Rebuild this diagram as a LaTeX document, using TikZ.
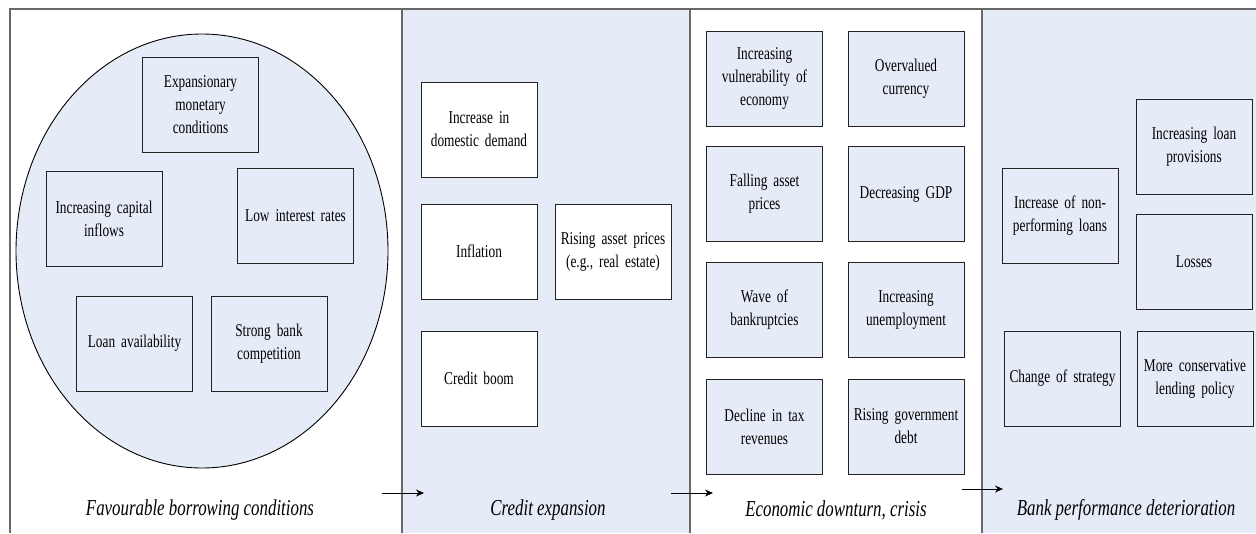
\documentclass[tikz,border=0pt]{standalone}
\usepackage{fontspec}
\setmainfont{Liberation Serif}[FakeStretch=0.74]
\usetikzlibrary{arrows.meta}
\definecolor{panelblue}{RGB}{230,236,247}
\definecolor{framegray}{RGB}{105,105,105}
\definecolor{boxline}{RGB}{35,35,35}
\tikzset{
  box/.style={draw=boxline, line width=1pt, minimum width=116pt, minimum height=95pt,
    inner sep=3pt, text width=110pt, align=center, font=\fontsize{18}{23}\selectfont},
  bluebox/.style={box, fill=panelblue},
  whitebox/.style={box, fill=white},
  caption/.style={font=\fontsize{22.8}{26}\selectfont\itshape, inner sep=0pt},
  frameline/.style={draw=framegray, line width=1.6pt},
  flowarrow/.style={-{Stealth[length=8pt,width=7pt]}, line width=1pt, black}
}
\begin{document}
\begin{tikzpicture}[x=1pt, y=-1pt]
\useasboundingbox (0,0) rectangle (1256,533);
\fill[white] (0,0) rectangle (1256,533);
% panel backgrounds
\fill[panelblue] (402,9) rectangle (690,533);
\fill[panelblue] (982,9) rectangle (1256,533);
% frame lines
\draw[frameline] (10,533) -- (10,9) -- (1256,9);
\draw[frameline] (402,9) -- (402,533);
\draw[frameline] (690,9) -- (690,533);
\draw[frameline] (982,9) -- (982,533);
% ellipse
\draw[fill=panelblue, draw=black, line width=0.9pt] (202,251) ellipse [x radius=186pt, y radius=217pt];

% panel 1
\node[bluebox] (exp) at (200.5,104.5) {Expansionary\\monetary\\conditions};
\node[bluebox] (cap) at (104,218.5) {Increasing capital\\inflows};
\node[bluebox] (low) at (295.5,215.5) {Low interest rates};
\node[bluebox] (loan) at (134.5,343.5) {Loan availability};
\node[bluebox] (comp) at (269,343.5) {Strong bank\\competition};

% panel 2
\node[whitebox] (dem) at (479,129.5) {Increase in\\domestic demand};
\node[whitebox] (infl) at (479,251.5) {Inflation};
\node[whitebox] (rise) at (613,251.5) {Rising asset prices\\(e.g., real estate)};
\node[whitebox] (boom) at (479,378.5) {Credit boom};

% panel 3
\node[bluebox] (vul) at (764.5,78.5) {Increasing\\vulnerability of\\economy};
\node[bluebox] (over) at (906,78.5) {Overvalued\\currency};
\node[bluebox] (fall) at (764.5,194) {Falling asset\\prices};
\node[bluebox] (gdp) at (906,194) {Decreasing GDP};
\node[bluebox] (wave) at (764.5,310) {Wave of\\bankruptcies};
\node[bluebox] (unem) at (906,310) {Increasing\\unemployment};
\node[bluebox] (tax) at (764.5,426.5) {Decline in tax\\revenues};
\node[bluebox] (debt) at (906,426.5) {Rising government\\debt};

% panel 4
\node[bluebox] (prov) at (1194,146.5) {Increasing loan\\provisions};
\node[bluebox] (npl) at (1060,215.5) {Increase of non-\\performing loans};
\node[bluebox] (loss) at (1194,262) {Losses};
\node[bluebox] (strat) at (1062.5,378.5) {Change of strategy};
\node[bluebox] (cons) at (1195,378.5) {More conservative\\lending policy};

% captions
\node[caption] (c1) at (200,510) {Favourable borrowing conditions};
\node[caption] (c2) at (548,510) {Credit expansion};
\node[caption] (c3) at (836,510) {Economic downturn, crisis};
\node[caption] (c4) at (1126,510) {Bank performance deterioration};

% arrows
\coordinate (a1s) at (382,493);
\coordinate (a1e) at (424,493);
\coordinate (a2s) at (671,493);
\coordinate (a2e) at (713,493);
\coordinate (a3s) at (962,489);
\coordinate (a3e) at (1003,489);
\draw[flowarrow] (a1s) -- (a1e);
\draw[flowarrow] (a2s) -- (a2e);
\draw[flowarrow] (a3s) -- (a3e);
\end{tikzpicture}
\end{document}
